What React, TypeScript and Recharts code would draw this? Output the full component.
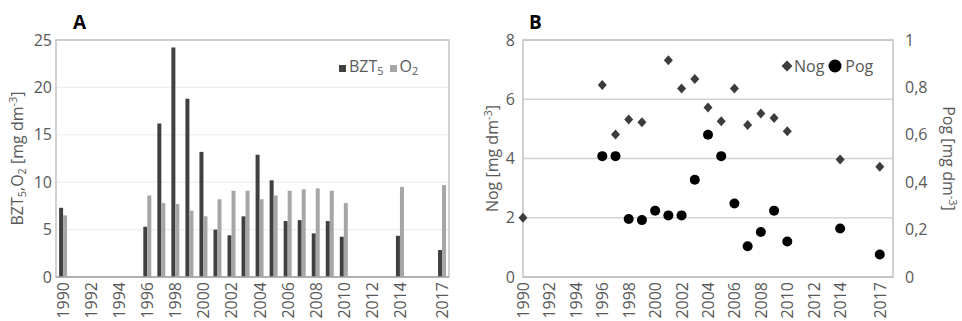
import {
  BarChart,
  Bar,
  ComposedChart,
  Scatter,
  XAxis,
  YAxis,
  CartesianGrid,
  ReferenceArea,
} from 'recharts'

// panel A: one category per year, empty where nothing was measured
const years = [
  1990, 1991, 1992, 1993, 1994, 1995, 1996, 1997, 1998, 1999, 2000, 2001, 2002, 2003,
  2004, 2005, 2006, 2007, 2008, 2009, 2010, 2011, 2012, 2013, 2014, 2015, 2016, 2017,
]
const bzt5 = [
  7.3, null, null, null, null, null, 5.3, 16.2, 24.2, 18.8, 13.2, 5.0, 4.4, 6.4,
  12.9, 10.2, 5.9, 6.0, 4.6, 5.9, 4.25, null, null, null, 4.35, null, null, 2.85,
]
const o2 = [
  6.5, null, null, null, null, null, 8.6, 7.8, 7.7, 7.0, 6.4, 8.2, 9.1, 9.1,
  8.2, 8.6, 9.1, 9.25, 9.35, 9.1, 7.8, null, null, null, 9.5, null, null, 9.7,
]
const shownYears = [1990, 1992, 1994, 1996, 1998, 2000, 2002, 2004, 2006, 2008, 2010, 2012, 2014, 2017]
const barTicks = [0, 5, 10, 15, 20, 25]

// panel B
const nogYears = [1990, 1996, 1997, 1998, 1999, 2001, 2002, 2003, 2004, 2005, 2006, 2007, 2008, 2009, 2010, 2014, 2017]
const nogValues = [2.0, 6.48, 4.81, 5.32, 5.22, 7.32, 6.36, 6.68, 5.72, 5.26, 6.36, 5.13, 5.52, 5.37, 4.92, 3.97, 3.72]
const pogYears = [1996, 1997, 1998, 1999, 2000, 2001, 2002, 2003, 2004, 2005, 2006, 2007, 2008, 2009, 2010, 2014, 2017]
const pogValues = [0.51, 0.51, 0.245, 0.24, 0.28, 0.26, 0.26, 0.41, 0.6, 0.51, 0.31, 0.13, 0.19, 0.28, 0.15, 0.205, 0.095]
const nogTicks = [0, 2, 4, 6, 8]
const pogTicks = [0, 0.2, 0.4, 0.6, 0.8, 1]

const FONT = '"Open Sans", sans-serif'
const GREY = '#595959'
const FS = 16

const barData = years.map((year, i) => ({ year, bzt5: bzt5[i], o2: o2[i] }))
const nogData = nogYears.map((year, i) => ({ year, v: nogValues[i] }))
const pogData = pogYears.map((year, i) => ({ year, v: pogValues[i] }))

const tickStyle = { fill: GREY, fontSize: FS, fontFamily: FONT }

function YearTick({ x, y, payload }: any) {
  if (!shownYears.includes(Number(payload.value))) return null
  return (
    <text
      x={x}
      y={y}
      transform={`rotate(-90 ${x} ${y})`}
      textAnchor="end"
      dominantBaseline="central"
      fill={GREY}
      fontSize={FS}
      fontFamily={FONT}
    >
      {payload.value}
    </text>
  )
}

function RotatedTitle({ cx, cy, angle, children }: any) {
  return (
    <text
      x={cx}
      y={cy}
      transform={`rotate(${angle} ${cx} ${cy})`}
      textAnchor="middle"
      dominantBaseline="central"
      fill={GREY}
      fontSize={FS}
      fontFamily={FONT}
    >
      {children}
    </text>
  )
}

function Unit() {
  return (
    <>
      <tspan> [mg dm</tspan>
      <tspan dy={-5} fontSize={11}>-3</tspan>
      <tspan dy={5}>]</tspan>
    </>
  )
}

function BarTitle({ viewBox }: any) {
  const cy = viewBox ? viewBox.y + viewBox.height / 2 : 158
  return (
    <RotatedTitle cx={17} cy={cy} angle={-90}>
      BZT<tspan dy={4} fontSize={11}>5</tspan>
      <tspan dy={-4}>,O</tspan>
      <tspan dy={4} fontSize={11}>2</tspan>
      <tspan dy={-4}> </tspan>
      <Unit />
    </RotatedTitle>
  )
}

function NogTitle({ viewBox }: any) {
  const cy = viewBox ? viewBox.y + viewBox.height / 2 : 158
  const cx = viewBox ? viewBox.x + 12 : 12
  return (
    <RotatedTitle cx={cx} cy={cy} angle={-90}>
      Nog<Unit />
    </RotatedTitle>
  )
}

function PogTitle({ viewBox }: any) {
  const cy = viewBox ? viewBox.y + viewBox.height / 2 : 158
  const cx = viewBox ? viewBox.x + viewBox.width - 13 : 469
  return (
    <RotatedTitle cx={cx} cy={cy} angle={90}>
      Pog<Unit />
    </RotatedTitle>
  )
}

const Diamond = (p: any) => (
  <path
    d={`M${p.cx},${p.cy - 5}L${p.cx + 4.5},${p.cy}L${p.cx},${p.cy + 5}L${p.cx - 4.5},${p.cy}Z`}
    fill="#3c3c3c"
  />
)
const Dot = (p: any) => <circle cx={p.cx} cy={p.cy} r={5} fill="#000" />

const legendText = { fontFamily: FONT, fontSize: FS, color: GREY, lineHeight: '20px' }

export default function App() {
  return (
    <div style={{ position: 'absolute', left: 0, top: 0, width: 962, height: 321, background: '#fff' }}>
      <div style={{ position: 'absolute', left: 0, top: 0 }}>
        <BarChart
          width={480}
          height={321}
          data={barData}
          margin={{ top: 40, right: 31, bottom: 0, left: 0 }}
          barCategoryGap="22%"
          barGap={0}
        >
          <CartesianGrid vertical={false} stroke="#ececec" />
          <ReferenceArea y1={0} y2={25} fill="none" stroke="#c4c4c4" strokeWidth={1.5} />
          <XAxis
            dataKey="year"
            interval={0}
            tick={<YearTick />}
            tickLine={false}
            tickSize={0}
            tickMargin={5}
            height={44}
            axisLine={{ stroke: '#a6a6a6', strokeWidth: 1.5 }}
          />
          <YAxis
            domain={[0, 25]}
            ticks={barTicks}
            width={56}
            axisLine={false}
            tickLine={false}
            tickSize={0}
            tickMargin={4}
            tick={tickStyle}
            label={<BarTitle />}
          />
          <Bar dataKey="bzt5" fill="#404040" isAnimationActive={false} />
          <Bar dataKey="o2" fill="#a6a6a6" isAnimationActive={false} />
        </BarChart>
      </div>

      <div style={{ position: 'absolute', left: 480, top: 0 }}>
        <ComposedChart width={482} height={321} margin={{ top: 40, right: 0, bottom: 0, left: 0 }}>
          <CartesianGrid vertical={false} yAxisId="l" stroke="#d4d4d4" strokeWidth={1.5} />
          <XAxis
            type="number"
            dataKey="year"
            domain={[1990, 2018]}
            ticks={shownYears}
            interval={0}
            tick={<YearTick />}
            tickLine={false}
            tickSize={0}
            tickMargin={5}
            height={44}
            axisLine={{ stroke: '#c4c4c4', strokeWidth: 1.5 }}
          />
          <YAxis
            yAxisId="l"
            dataKey="v"
            domain={[0, 8]}
            ticks={nogTicks}
            width={43}
            axisLine={false}
            tickLine={false}
            tickSize={0}
            tickMargin={8}
            tick={tickStyle}
            label={<NogTitle />}
          />
          <YAxis
            yAxisId="r"
            dataKey="v"
            orientation="right"
            domain={[0, 1]}
            ticks={pogTicks}
            width={69}
            axisLine={false}
            tickLine={false}
            tickSize={0}
            tickMargin={12}
            tick={tickStyle}
            tickFormatter={(v: number) => String(v).replace('.', ',')}
            label={<PogTitle />}
          />
          <ReferenceArea yAxisId="l" y1={0} y2={8} x1={1990} x2={2018} fill="none" stroke="#c4c4c4" strokeWidth={1.5} />
          <Scatter yAxisId="l" data={nogData} dataKey="v" shape={Diamond} isAnimationActive={false} />
          <Scatter yAxisId="r" data={pogData} dataKey="v" shape={Dot} isAnimationActive={false} />
        </ComposedChart>
      </div>

      {/* panel letters */}
      <div style={{ position: 'absolute', left: 73, top: 9, fontFamily: FONT, fontSize: 19, fontWeight: 700 }}>A</div>
      <div style={{ position: 'absolute', left: 529, top: 9, fontFamily: FONT, fontSize: 19, fontWeight: 700 }}>B</div>

      {/* legend A */}
      <div style={{ position: 'absolute', left: 339, top: 56, display: 'flex', alignItems: 'center', ...legendText }}>
        <span style={{ width: 7, height: 7, background: '#404040', marginRight: 3 }} />
        <span>
          BZT<sub style={{ fontSize: 11, verticalAlign: '-3px' }}>5</sub>
        </span>
        <span style={{ width: 7, height: 7, background: '#a6a6a6', marginLeft: 6, marginRight: 3 }} />
        <span>
          O<sub style={{ fontSize: 11, verticalAlign: '-3px' }}>2</sub>
        </span>
      </div>

      {/* legend B */}
      <div style={{ position: 'absolute', left: 781, top: 56, display: 'flex', alignItems: 'center', ...legendText }}>
        <svg width={12} height={12}>
          <path d="M6,0.5L11.5,6L6,11.5L0.5,6Z" fill="#3c3c3c" />
        </svg>
        <span style={{ marginLeft: 1 }}>Nog</span>
        <svg width={14} height={14} style={{ marginLeft: 4 }}>
          <circle cx={7} cy={7} r={6.5} fill="#000" />
        </svg>
        <span style={{ marginLeft: 3 }}>Pog</span>
      </div>
    </div>
  )
}
